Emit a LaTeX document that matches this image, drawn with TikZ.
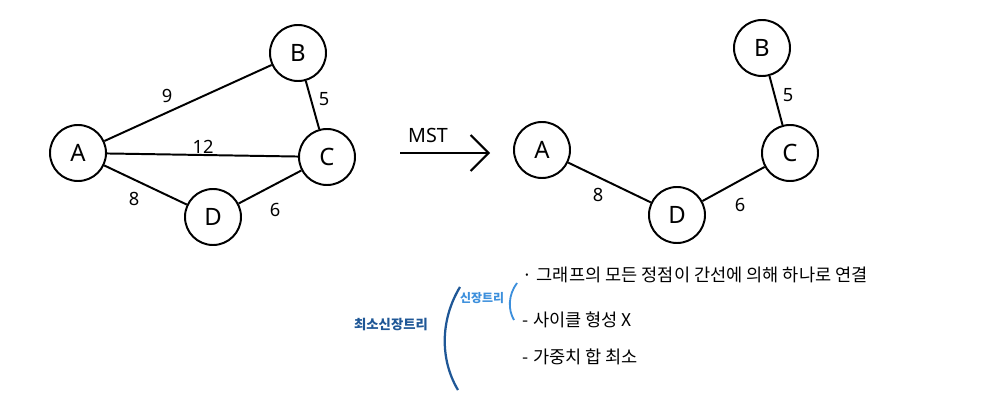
\documentclass[tikz,border=0pt]{standalone}
\usepackage{fontspec}
\setmainfont{Noto Sans}
\newfontfamily\kofont{Noto Sans CJK KR}
\usepackage{tikz}
\usetikzlibrary{arrows,arrows.meta,positioning}
\definecolor{darkblue}{HTML}{1F5796}
\definecolor{lightblue}{HTML}{3C8FDC}

\begin{document}
\begin{tikzpicture}[x=0.025cm, y=-0.025cm,
    vertex/.style={draw, circle, line width=1.4pt, minimum size=1.4cm, inner sep=0pt, font=\fontsize{17}{19}\selectfont},
    edge/.style={line width=1.4pt},
    weight/.style={font=\fontsize{13}{15}\selectfont},
    note/.style={font=\kofont\fontsize{12.5}{15}\selectfont, anchor=west}]
            \useasboundingbox (0,0) rectangle (994,400);
            % Graph
            \node[vertex] (a) at (78,153) {A};
            \node[vertex] (b) at (298,53) {B};
            \node[vertex] (c) at (327,157) {C};
            \node[vertex] (d) at (213,217) {D};
            \draw[edge] (a) -- (b);
            \draw[edge] (a) -- (c);
            \draw[edge] (a) -- (d);
            \draw[edge] (b) -- (c);
            \draw[edge] (d) -- (c);
            \node[weight] (w9) at (167,96) {9};
            \node[weight] (w12) at (203,147) {12};
            \node[weight] (w5) at (324,99) {5};
            \node[weight] (w8) at (134,199) {8};
            \node[weight] (w6) at (275,210) {6};

            % MST arrow
            \coordinate (from) at (400,153);
            \coordinate (to) at (490,153);
            \draw[line width=1.4pt, -{Straight Barb[length=4.5mm, width=9mm]}] (from) -- (to);
            \node[font=\fontsize{14}{16}\selectfont] (mst) at (428,135) {MST};

            % Spanning tree
            \node[vertex] (ta) at (542,150) {A};
            \node[vertex] (tb) at (762,48) {B};
            \node[vertex] (tc) at (790,153) {C};
            \node[vertex] (td) at (677,215) {D};
            \draw[edge] (ta) -- (td);
            \draw[edge] (td) -- (tc);
            \draw[edge] (tb) -- (tc);
            \node[weight] (t8) at (598,195) {8};
            \node[weight] (t6) at (740,205) {6};
            \node[weight] (t5) at (788,95) {5};

            % Notes
            \node[font=\kofont\bfseries\fontsize{9.5}{12}\selectfont, text=darkblue] (mstname) at (391,325) {최소신장트리};
            \draw[darkblue, line width=1.6pt] (460,287) .. controls (440,320) and (440,360) .. (458,390);
            \node[font=\kofont\bfseries\fontsize{8.5}{10}\selectfont, text=lightblue] (stname) at (482,298) {신장트리};
            \draw[lightblue, line width=1.3pt] (517,283) .. controls (508,295) and (508,310) .. (514,320);
            \node[note] (n1) at (518,275) {· 그래프의 모든 정점이 간선에 의해 하나로 연결};
            \node[note] (n2) at (518,320) {- 사이클 형성 X};
            \node[note] (n3) at (518,357) {- 가중치 합 최소};
        \end{tikzpicture}
\end{document}
